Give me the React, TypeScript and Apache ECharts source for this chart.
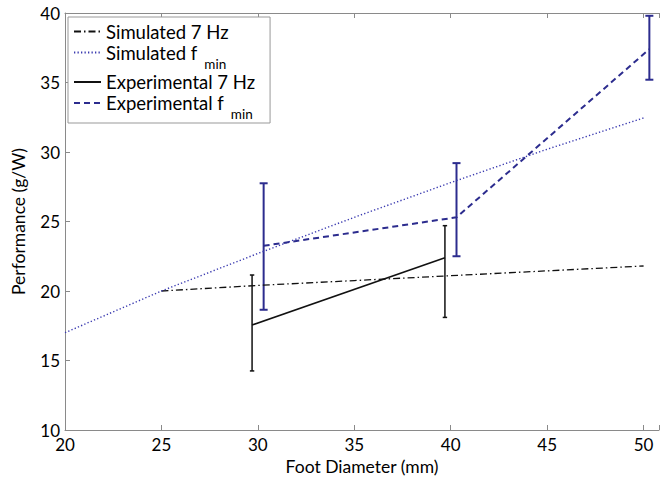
import React, { useEffect, useRef } from "react";
import * as echarts from "echarts";

const simX7 = [25, 30, 35, 40, 45, 50];
const simY7 = [20.0, 20.4, 20.75, 21.1, 21.45, 21.8];
const simXf = [20, 25, 30, 35, 40, 45, 50];
const simYf = [17.0, 20.0, 22.7, 25.3, 27.8, 30.2, 32.45];
const expX7 = [29.7, 39.7];
const expY7 = [17.55, 22.4];
const expLo7 = [14.25, 18.1];
const expHi7 = [21.15, 24.7];
const expXf = [30.3, 40.3, 50.3];
const expYf = [23.25, 25.3, 37.4];
const expLof = [18.65, 22.5, 35.2];
const expHif = [27.75, 29.2, 39.8];
const seriesNames = ["Simulated 7 Hz", "Simulated fmin", "Experimental 7 Hz", "Experimental fmin"];

const FONT = "Lato";
const BLUE = "#2c2c8e";
const DOT_BLUE = "#3a3ab0";
const AXIS = "#8a8a8a";

function errorSeries(xs: number[], lo: number[], hi: number[], color: string, cap: number, width: number) {
  return {
    type: "custom",
    silent: true,
    data: xs.map((x, i) => [x, lo[i], hi[i]]),
    renderItem: (_p: any, api: any) => {
      const x = api.value(0);
      const a = api.coord([x, api.value(1)]);
      const b = api.coord([x, api.value(2)]);
      const style = { stroke: color, lineWidth: width };
      return {
        type: "group",
        children: [
          { type: "line", shape: { x1: a[0], y1: a[1], x2: b[0], y2: b[1] }, style },
          { type: "line", shape: { x1: a[0] - cap, y1: a[1], x2: a[0] + cap, y2: a[1] }, style },
          { type: "line", shape: { x1: b[0] - cap, y1: b[1], x2: b[0] + cap, y2: b[1] }, style },
        ],
      };
    },
    z: 3,
  };
}

export default function App() {
  const ref = useRef<HTMLDivElement>(null);
  useEffect(() => {
    if (!ref.current) return;
    const chart = echarts.init(ref.current, undefined, { renderer: "svg" });
    const xCommon = {
      type: "value",
      min: 20,
      max: 50.8,
      interval: 5,
      splitLine: { show: false },
      axisLine: { show: true, lineStyle: { color: AXIS, width: 1 } },
      axisTick: { show: true, inside: true, length: 5, lineStyle: { color: AXIS } },
    };
    chart.setOption({
      animation: false,
      backgroundColor: "#fff",
      textStyle: { fontFamily: FONT },
      grid: { left: 65, right: 1, top: 13, bottom: 51, containLabel: false },
      legend: {
        data: seriesNames,
        orient: "vertical",
        left: 68,
        top: 17,
        padding: [5, 15, 2, 5],
        itemWidth: 27,
        itemHeight: 14,
        itemGap: 2,
        borderColor: "#999",
        borderWidth: 1,
        backgroundColor: "#fff",
        itemStyle: { opacity: 0 },
        formatter: (name: string) => {
          if (name === "Simulated fmin") return "{t|Simulated f}{s|min}";
          if (name === "Experimental fmin") return "{t|Experimental f}{s|min}";
          return name;
        },
        textStyle: {
          fontFamily: FONT,
          fontSize: 18.5,
          color: "#000",
          rich: {
            t: { fontFamily: FONT, fontSize: 18.5, color: "#000", verticalAlign: "middle" },
            s: { fontFamily: FONT, fontSize: 13.5, color: "#000", padding: [22, 0, 0, 7], verticalAlign: "middle" },
          },
        },
      },
      xAxis: [
        {
          ...xCommon,
          position: "bottom",
          name: "Foot Diameter (mm)",
          nameLocation: "middle",
          nameGap: 27,
          nameTextStyle: { fontFamily: FONT, fontSize: 17.5, color: "#000" },
          axisLabel: {
            fontFamily: FONT,
            fontSize: 17,
            color: "#000",
            margin: 6,
            formatter: (v: number) => (v % 5 === 0 ? String(v) : ""),
          },
        },
        {
          ...xCommon,
          position: "top",
          axisLabel: { show: false },
        },
      ],
      yAxis: {
        type: "value",
        min: 10,
        max: 40,
        interval: 5,
        splitLine: { show: false },
        axisLine: { show: true, lineStyle: { color: AXIS, width: 1 } },
        axisTick: { show: true, inside: true, length: 5, lineStyle: { color: AXIS } },
        axisLabel: { fontFamily: FONT, fontSize: 17, color: "#000", margin: 5 },
        name: "Performance (g/W)",
        nameLocation: "middle",
        nameGap: 38,
        nameTextStyle: { fontFamily: FONT, fontSize: 17.5, color: "#000" },
      },
      series: [
        {
          name: "Simulated 7 Hz",
          type: "line",
          symbol: "none",
          data: simX7.map((x, i) => [x, simY7[i]]),
          lineStyle: { color: "#111", width: 1.3, type: [7, 3, 1.5, 3] },
          itemStyle: { color: "#111" },
        },
        {
          name: "Simulated fmin",
          type: "line",
          symbol: "none",
          data: simXf.map((x, i) => [x, simYf[i]]),
          lineStyle: { color: DOT_BLUE, width: 1.4, type: [1.3, 2.2] },
          itemStyle: { color: DOT_BLUE },
        },
        {
          name: "Experimental 7 Hz",
          type: "line",
          symbol: "none",
          data: expX7.map((x, i) => [x, expY7[i]]),
          lineStyle: { color: "#111", width: 1.6, type: "solid" },
          itemStyle: { color: "#111" },
        },
        {
          name: "Experimental fmin",
          type: "line",
          symbol: "none",
          data: expXf.map((x, i) => [x, expYf[i]]),
          lineStyle: { color: BLUE, width: 2, type: [6, 4] },
          itemStyle: { color: BLUE },
        },
        errorSeries(expX7, expLo7, expHi7, "#111", 2.2, 1.5),
        errorSeries(expXf, expLof, expHif, BLUE, 4, 2),
      ],
    });
    return () => chart.dispose();
  }, []);
  return <div ref={ref} style={{ width: 662, height: 481, position: "absolute", left: 0, top: 0 }} />;
}
